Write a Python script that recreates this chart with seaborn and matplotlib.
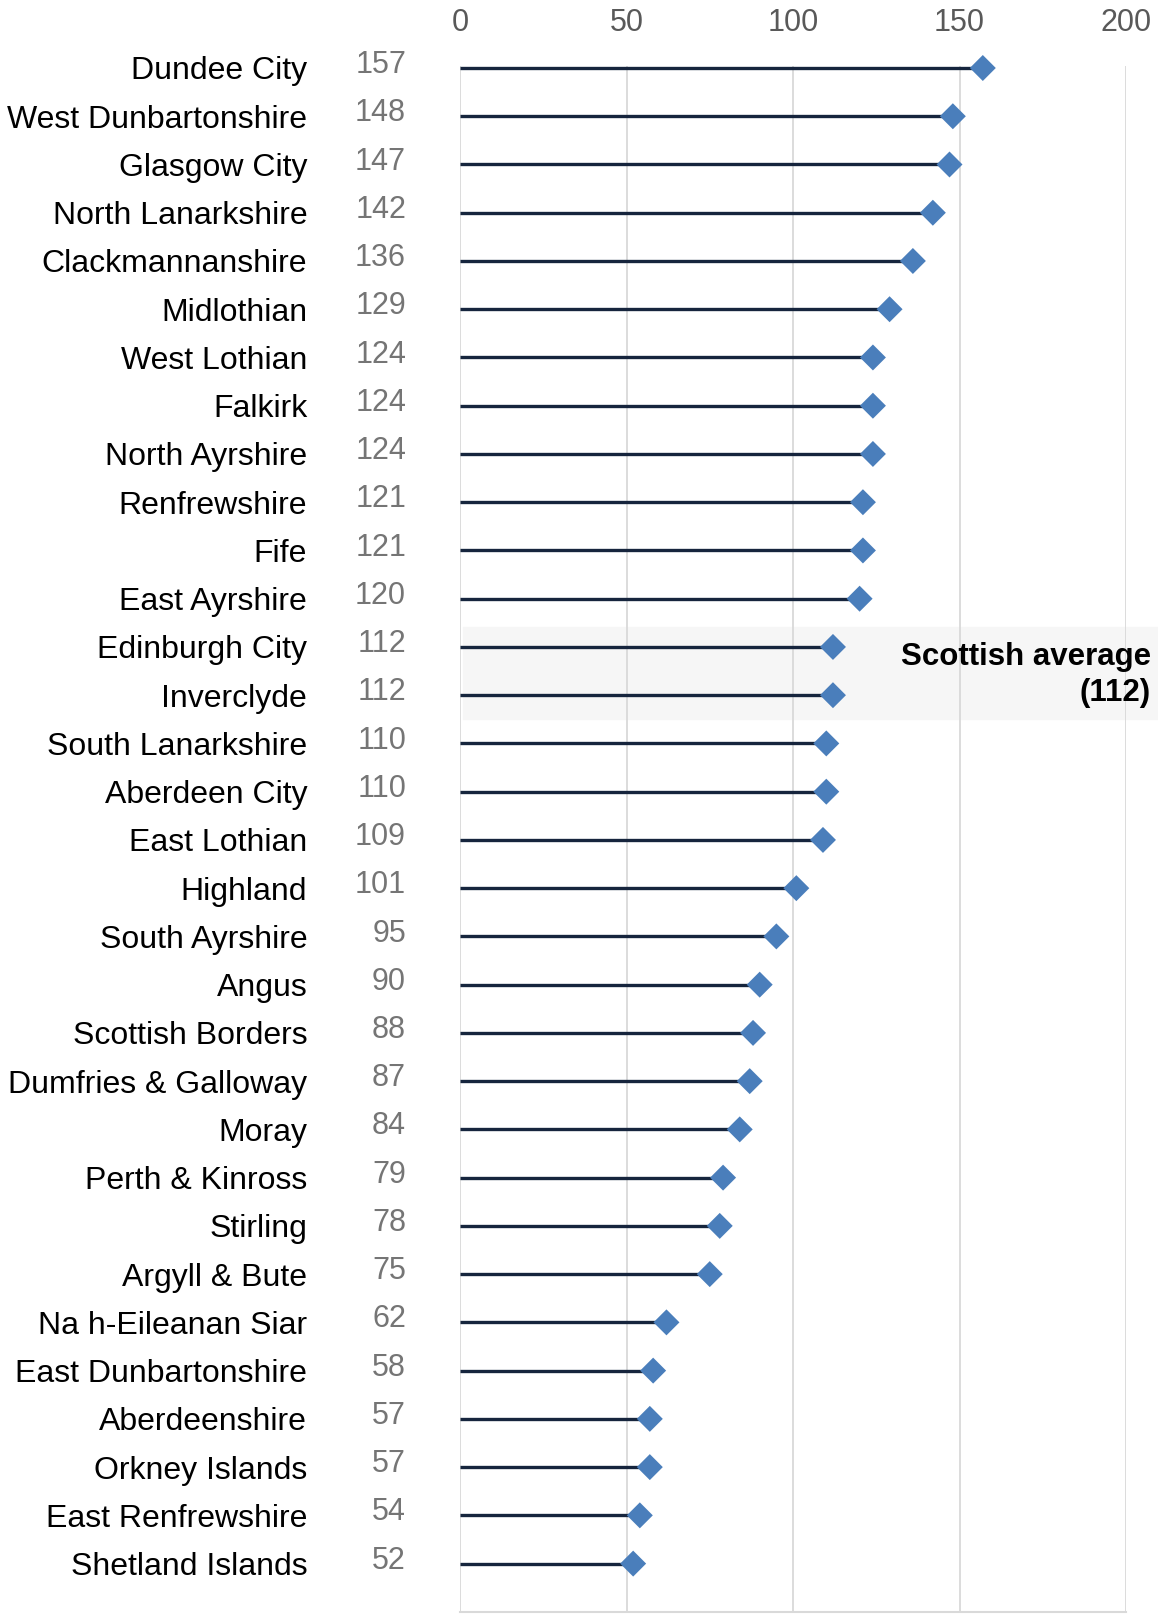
import matplotlib
matplotlib.use("Agg")
import matplotlib.pyplot as plt
import matplotlib.transforms as mtrans
import seaborn as sns
import pandas as pd

areas = ["Dundee City", "West Dunbartonshire", "Glasgow City", "North Lanarkshire",
         "Clackmannanshire", "Midlothian", "West Lothian", "Falkirk", "North Ayrshire",
         "Renfrewshire", "Fife", "East Ayrshire", "Edinburgh City", "Inverclyde",
         "South Lanarkshire", "Aberdeen City", "East Lothian", "Highland", "South Ayrshire",
         "Angus", "Scottish Borders", "Dumfries & Galloway", "Moray", "Perth & Kinross",
         "Stirling", "Argyll & Bute", "Na h-Eileanan Siar", "East Dunbartonshire",
         "Aberdeenshire", "Orkney Islands", "East Renfrewshire", "Shetland Islands"]
values = [157, 148, 147, 142, 136, 129, 124, 124, 124, 121, 121, 120, 112, 112,
          110, 110, 109, 101, 95, 90, 88, 87, 84, 79, 78, 75, 62, 58, 57, 57, 54, 52]
x_ticks = [0, 50, 100, 150, 200]
average_label = "Scottish average\n(112)"
average_rows = ["Edinburgh City", "Inverclyde"]

df = pd.DataFrame({"area": areas, "value": values})
df["pos"] = range(len(df))

sns.set_theme(style="white")
plt.rcParams['font.family'] = ['Liberation Sans', 'DejaVu Sans']

W, H = 1158, 1614
fig = plt.figure(figsize=(W / 100, H / 100), dpi=100)
left = 460 / W
right = 1126 / W
row0 = 68.0
step = (1563.6 - 68.0) / 31
top_px = row0 - 0.05 * step
bot_px = row0 + 32 * step
ax = fig.add_axes([left, 1 - bot_px / H, right - left, (bot_px - top_px) / H])

# Scottish average band
r0 = areas.index(average_rows[0])
r1 = areas.index(average_rows[1])
ax.axhspan(r0 - 0.42, r1 + 0.5, xmin=0.005, xmax=1.05, color="#F6F6F6", zorder=0, clip_on=False)

# Lines
ax.hlines(df["pos"], 0, df["value"], color="#16253D", lw=2.4, zorder=2)
sns.scatterplot(data=df, x="value", y="pos", marker="D", s=175, color="#4A7EBB",
                edgecolor="none", ax=ax, zorder=3, clip_on=False, legend=False)

ax.set_xlim(0, 200)
ax.set_ylim(32, -0.05)
ax.set_xticks(x_ticks)
ax.xaxis.tick_top()
ax.tick_params(axis="x", length=0, pad=20, labelsize=22, labelcolor="#595959")
ax.set_yticks(df["pos"])
ax.set_yticklabels(df["area"])
ax.tick_params(axis="y", length=0, pad=110, labelsize=23, labelcolor="black")
ax.set_xlabel("")
ax.set_ylabel("")
ax.grid(axis="x", color="#D9D9D9", lw=1.3)
ax.set_axisbelow(True)
for s in ["top", "right", "left"]:
    ax.spines[s].set_visible(False)
ax.spines["bottom"].set_color("#D9D9D9")
ax.spines["bottom"].set_linewidth(1.5)

# value labels
trans = mtrans.blended_transform_factory(fig.transFigure, ax.transData)
for p, v in zip(df["pos"], df["value"]):
    ax.text(406 / W, p - 0.06, str(v), transform=trans, ha="right", va="center",
            fontsize=22, color="#757575")

ax.text(1151 / W, (r0 + r1) / 2 + 0.08, average_label, transform=trans, ha="right", va="center",
        fontsize=22.5, fontweight="bold", color="black", linespacing=1.25)

fig.savefig("out.png", dpi=100)
